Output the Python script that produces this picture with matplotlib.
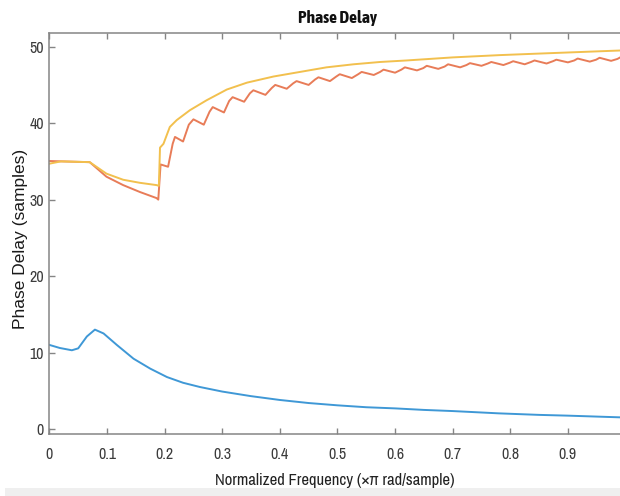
import matplotlib
matplotlib.use("Agg")
import matplotlib.pyplot as plt
from matplotlib.patches import Rectangle
from matplotlib import font_manager as fm

# ---------------- data ----------------
blue_f = [0.0, 0.018, 0.039, 0.050, 0.065, 0.079, 0.094, 0.117, 0.146, 0.175,
          0.204, 0.232, 0.261, 0.30, 0.35, 0.40, 0.45, 0.50, 0.55, 0.60,
          0.65, 0.70, 0.78, 0.85, 0.90, 0.99]
blue_v = [11.0, 10.6, 10.3, 10.55, 12.1, 13.0, 12.5, 11.0, 9.2, 7.9,
          6.8, 6.05, 5.5, 4.9, 4.3, 3.8, 3.4, 3.1, 2.85, 2.7,
          2.5, 2.35, 2.05, 1.85, 1.75, 1.53]

yellow_f = [0.0, 0.02, 0.070, 0.099, 0.128, 0.157, 0.186, 0.190, 0.192, 0.198,
            0.209, 0.221, 0.244, 0.273, 0.308, 0.343, 0.389, 0.435, 0.481,
            0.528, 0.574, 0.620, 0.70, 0.782, 0.85, 0.92, 0.99]
yellow_v = [34.7, 35.0, 34.9, 33.4, 32.6, 32.2, 31.9, 31.8, 36.8, 37.3,
            39.5, 40.4, 41.7, 43.0, 44.4, 45.3, 46.1, 46.7, 47.3,
            47.7, 48.0, 48.2, 48.6, 48.9, 49.1, 49.3, 49.5]

orange_f = [0.0, 0.070, 0.099, 0.128, 0.157, 0.186, 0.189, 0.193, 0.206,
            0.214, 0.218, 0.232, 0.242, 0.250, 0.268, 0.278, 0.2835,
            0.303, 0.312, 0.318, 0.338, 0.348, 0.354, 0.375, 0.386, 0.392,
            0.412, 0.423, 0.429, 0.450, 0.461, 0.467, 0.487, 0.498, 0.504,
            0.525, 0.536, 0.542, 0.563, 0.574, 0.580, 0.600, 0.611, 0.617,
            0.638, 0.649, 0.655, 0.675, 0.686, 0.692, 0.713, 0.724, 0.730,
            0.750, 0.761, 0.767, 0.788, 0.799, 0.805, 0.825, 0.836, 0.842,
            0.863, 0.874, 0.880, 0.900, 0.911, 0.917, 0.938, 0.949, 0.955,
            0.975, 0.986, 0.992, 1.0]
orange_v = [35.05, 34.9, 33.0, 31.9, 31.0, 30.2, 30.0, 34.6, 34.3,
            37.3, 38.2, 37.6, 39.8, 40.5, 39.8, 41.5, 42.1,
            41.4, 42.9, 43.4, 42.8, 43.9, 44.3, 43.7, 44.6, 45.0,
            44.5, 45.2, 45.5, 45.0, 45.7, 46.0, 45.5, 46.1, 46.4,
            45.9, 46.4, 46.7, 46.3, 46.7, 47.0, 46.6, 47.0, 47.3,
            46.9, 47.2, 47.5, 47.1, 47.4, 47.7, 47.3, 47.6, 47.85,
            47.5, 47.8, 48.0, 47.6, 47.9, 48.1, 47.7, 48.0, 48.2,
            47.8, 48.1, 48.3, 47.95, 48.2, 48.45, 48.05, 48.3, 48.55,
            48.15, 48.4, 48.65, 48.6]

xticks = [0, 0.1, 0.2, 0.3, 0.4, 0.5, 0.6, 0.7, 0.8, 0.9]
xticklabels = ["0", "0.1", "0.2", "0.3", "0.4", "0.5", "0.6", "0.7", "0.8", "0.9"]
yticks = [0, 10, 20, 30, 40, 50]
yticklabels = ["0", "10", "20", "30", "40", "50"]

title = "Phase Delay"
xlabel = "Normalized Frequency (\u00d7\u03c0 rad/sample)"
ylabel = "Phase Delay (samples)"

# ---------------- pick a narrow font if one is installed ----------------
entries = fm.fontManager.ttflist
def is_narrow(f):
    return ("Narrow" in f.name or "Condensed" in f.name or
            str(f.stretch) in ("condensed", "semi-condensed", "extra-condensed",
                               "ultra-condensed"))
def is_bold(f):
    w = f.weight
    if isinstance(w, int):
        return w >= 600
    return str(w) in ("bold", "semibold", "demibold", "heavy", "black", "extra bold")
narrow_upright = [f for f in entries if is_narrow(f) and f.style == "normal"]
narrow_names = sorted({f.name for f in narrow_upright})
bold_names = sorted({f.name for f in narrow_upright if is_bold(f)})
regular_fam = narrow_names[0] if narrow_names else "Liberation Sans"
bold_fam = bold_names[0] if bold_names else "Liberation Sans"
bold_stretch = "condensed" if bold_names else "normal"
stretch = "condensed" if narrow_names else "normal"
plt.rcParams["font.family"] = [regular_fam, "Liberation Sans", "DejaVu Sans"]
plt.rcParams["font.stretch"] = stretch
plt.rcParams["font.style"] = "normal"

# ---------------- figure ----------------
W, H = 620, 496
fig = plt.figure(figsize=(W / 100, H / 100), dpi=100)
fig.patch.set_facecolor("white")

ax_l, ax_r, ax_t, ax_b = 49.4, 625.5, 32.7, 434.0
ax = fig.add_axes([ax_l / W, 1 - ax_b / H, (ax_r - ax_l) / W, (ax_b - ax_t) / H])

ax.plot(blue_f, blue_v, color="#3f98d6", lw=1.4, solid_joinstyle="round")
ax.plot(orange_f, orange_v, color="#e87c58", lw=1.4, solid_joinstyle="round")
ax.plot(yellow_f, yellow_v, color="#f2c04e", lw=1.4, solid_joinstyle="round")

ax.set_xlim(0, 1.0)
ax.set_ylim(-0.65, 51.83)
ax.set_xticks(xticks)
ax.set_xticklabels(xticklabels)
ax.set_yticks(yticks)
ax.set_yticklabels(yticklabels)

spine_c = "#858585"
for s in ax.spines.values():
    s.set_color(spine_c)
    s.set_linewidth(1.1)
tick_fs = 11.5 if narrow_names else 9.0
ax.tick_params(direction="in", length=4, width=1.0, color=spine_c,
               top=True, right=True, labelsize=tick_fs, labelcolor="#3c3c3c")
ax.tick_params(axis="x", pad=9.5)
ax.tick_params(axis="y", pad=4)

lab_fs = 12 if narrow_names else 10.5
title_fs = 12.5 if bold_names else 10.5
fig.text(337 / W, 1 - 18 / H, title, ha="center", va="center",
         fontsize=title_fs, fontweight="bold", fontstyle="normal",
         stretch=bold_stretch, color="#111111",
         family=[bold_fam, "Liberation Sans", "DejaVu Sans"])
fig.text(335 / W, 1 - 481 / H, xlabel, ha="center", va="center",
         fontsize=lab_fs, color="#222222")
fig.text(21 / W, 1 - 239 / H, ylabel, ha="center", va="center", rotation=90,
         fontsize=12.5, color="#1a1a1a", family=["Liberation Sans", "DejaVu Sans"],
         stretch="normal")

# light grey strip at the bottom of the screenshot
fig.patches.append(Rectangle((5 / W, 0), 1, 8 / H, transform=fig.transFigure,
                             facecolor="#efefef", edgecolor="none", zorder=5))

fig.savefig("out.png", dpi=100)
